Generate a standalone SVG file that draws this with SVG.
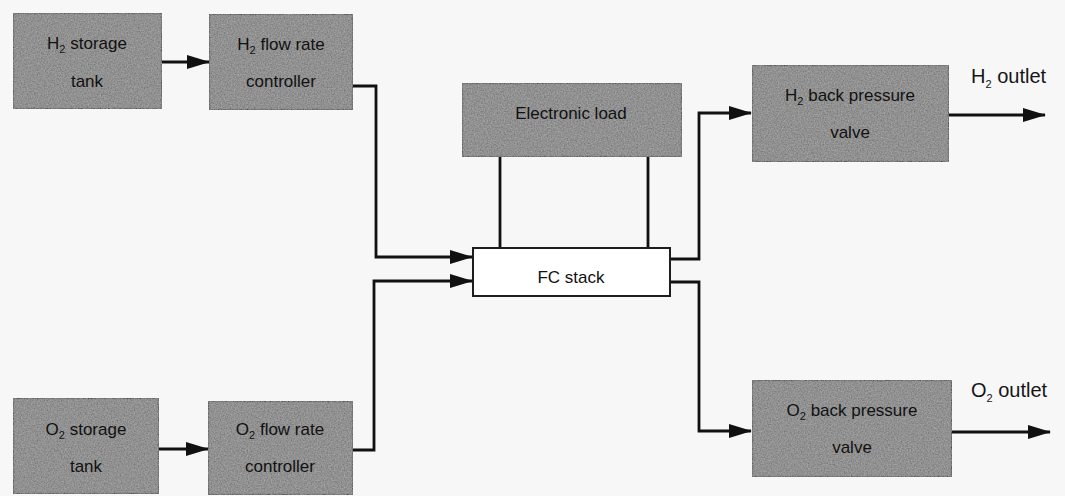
<svg xmlns="http://www.w3.org/2000/svg" width="1065" height="496" viewBox="0 0 1065 496">
<style>
.box{fill:#6c6c6c;stroke:#1e1e1e;stroke-width:2.2;filter:url(#grain)}
.white{fill:#ffffff;stroke:#1e1e1e;stroke-width:2}
.t{font-family:"Liberation Sans",Arial,sans-serif;font-size:17px;fill:#111;text-anchor:middle}
.lab{font-family:"Liberation Sans",Arial,sans-serif;font-size:20px;fill:#151515}
.sub{font-size:11px}
.c{fill:none;stroke:#111;stroke-width:2.8}
</style>
<defs>
<marker id="ah" viewBox="0 0 23 14" refX="22" refY="7" markerWidth="23" markerHeight="14" markerUnits="userSpaceOnUse" orient="auto">
<path d="M0,0 L23,7 L0,14 Z" fill="#111"/>
</marker>
<filter id="grain" x="0" y="0" width="1" height="1">
<feTurbulence type="fractalNoise" baseFrequency="0.7" numOctaves="2" seed="3" result="n"/>
<feColorMatrix in="n" type="matrix" values="0 0 0 0 0.6  0 0 0 0 0.6  0 0 0 0 0.6  0 0 0 0.6 0" result="g"/>
<feComposite in="g" in2="SourceGraphic" operator="in" result="gi"/>
<feMerge><feMergeNode in="SourceGraphic"/><feMergeNode in="gi"/></feMerge>
</filter>
</defs>
<rect width="1065" height="496" fill="#f7f7f7"/>

<g id="connectors">
<path class="c" d="M162,62 H209" marker-end="url(#ah)"/>
<path class="c" d="M159,449 H208" marker-end="url(#ah)"/>
<path class="c" d="M353,86 H376 V257 H472" marker-end="url(#ah)"/>
<path class="c" d="M353,450 H374 V281 H472" marker-end="url(#ah)"/>
<path class="c" d="M500,157 V248"/>
<path class="c" d="M648,157 V248"/>
<path class="c" d="M670,259 H699 V113 H751" marker-end="url(#ah)"/>
<path class="c" d="M670,282 H699 V431 H751" marker-end="url(#ah)"/>
<path class="c" d="M949,115 H1045" marker-end="url(#ah)"/>
<path class="c" d="M952,432 H1050" marker-end="url(#ah)"/>
</g>

<g id="h2-storage">
<rect class="box" x="13" y="13" width="149" height="96"/>
<text class="t" x="87" y="49">H<tspan class="sub" dy="4">2</tspan><tspan dy="-4"> storage</tspan></text>
<text class="t" x="87" y="87">tank</text>
</g>
<g id="h2-flow">
<rect class="box" x="209" y="14" width="144" height="96"/>
<text class="t" x="281" y="50">H<tspan class="sub" dy="4">2</tspan><tspan dy="-4"> flow rate</tspan></text>
<text class="t" x="281" y="87">controller</text>
</g>
<g id="o2-storage">
<rect class="box" x="13" y="398" width="146" height="96"/>
<text class="t" x="86" y="435">O<tspan class="sub" dy="4">2</tspan><tspan dy="-4"> storage</tspan></text>
<text class="t" x="86" y="472">tank</text>
</g>
<g id="o2-flow">
<rect class="box" x="208" y="401" width="145" height="94"/>
<text class="t" x="280" y="435">O<tspan class="sub" dy="4">2</tspan><tspan dy="-4"> flow rate</tspan></text>
<text class="t" x="280" y="472">controller</text>
</g>
<g id="electronic-load">
<rect class="box" x="462" y="83" width="220" height="74"/>
<text class="t" x="571" y="119">Electronic load</text>
</g>
<g id="fc-stack">
<rect class="white" x="473" y="248" width="197" height="48"/>
<text class="t" x="571" y="283">FC stack</text>
</g>
<g id="h2-bpv">
<rect class="box" x="752" y="65" width="197" height="97"/>
<text class="t" x="850" y="101">H<tspan class="sub" dy="4">2</tspan><tspan dy="-4"> back pressure</tspan></text>
<text class="t" x="850" y="138">valve</text>
</g>
<g id="o2-bpv">
<rect class="box" x="752" y="380" width="200" height="97"/>
<text class="t" x="852" y="416">O<tspan class="sub" dy="4">2</tspan><tspan dy="-4">  back pressure</tspan></text>
<text class="t" x="852" y="453">valve</text>
</g>
<g id="h2-outlet">
<text class="lab" x="971" y="83">H<tspan class="sub" font-size="13" dy="5">2</tspan><tspan dy="-5"> outlet</tspan></text>
</g>
<g id="o2-outlet">
<text class="lab" x="971" y="397">O<tspan class="sub" font-size="13" dy="5">2</tspan><tspan dy="-5"> outlet</tspan></text>
</g>
</svg>
